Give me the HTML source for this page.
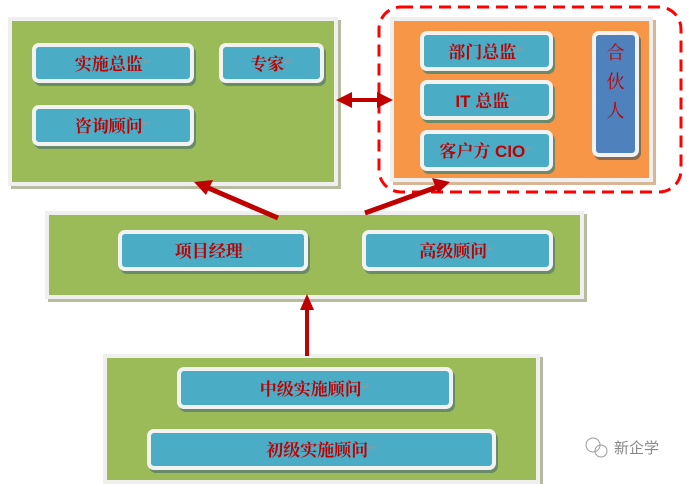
<!DOCTYPE html>
<html><head><meta charset="utf-8"><style>
body{margin:0;width:687px;height:477px;background:#fff;position:relative;overflow:hidden;font-family:"Liberation Sans","Noto Serif CJK SC",serif}
.p{position:absolute;box-sizing:border-box;border:4px solid #efefef;box-shadow:3px 3px 0 #b7bba0}
.g{background:#9bbb59}
.o{background:#f79646;box-shadow:3px 3px 0 #d8b595}
.b{position:absolute;box-sizing:border-box;background:#4bacc6;border:4px solid #f2f2f2;border-radius:7px;box-shadow:2px 3px 0 #6a8a6a;color:#c00000;font-weight:bold;font-size:17px;display:flex;align-items:center;justify-content:center;padding-bottom:2px}
.r{font-weight:normal;color:#999;font-size:10px}
</style></head><body>
<div class="p g" style="left:8px;top:17px;width:330px;height:169px"></div>
<div class="b" style="left:32px;top:43px;width:162px;height:40px">实施总监<span class="r">↵</span></div>
<div class="b" style="left:219px;top:43px;width:105px;height:40px">专家<span class="r">↵</span></div>
<div class="b" style="left:32px;top:105px;width:162px;height:41px">咨询顾问<span class="r">↵</span></div>

<div class="p o" style="left:390px;top:17px;width:263px;height:165px"></div>
<div class="b" style="left:420px;top:31px;width:133px;height:40px">部门总监<span class="r">↵</span></div>
<div class="b" style="left:420px;top:80px;width:133px;height:40px">IT 总监<span class="r">↵</span></div>
<div class="b" style="left:420px;top:130px;width:133px;height:41px">客户方 CIO<span class="r">↵</span></div>
<div class="b" style="left:592px;top:31px;width:47px;height:126px;background:#4f81bd;flex-direction:column;justify-content:flex-start;padding-top:4px;font-weight:normal;font-size:18px;line-height:29px;box-shadow:2px 3px 0 #8a6a50">合<br>伙<br>人</div>

<div class="p g" style="left:45px;top:211px;width:539px;height:88px"></div>
<div class="b" style="left:118px;top:230px;width:190px;height:41px">项目经理<span class="r">↵</span></div>
<div class="b" style="left:362px;top:230px;width:191px;height:41px">高级顾问<span class="r">↵</span></div>

<div class="p g" style="left:103px;top:354px;width:437px;height:130px"></div>
<div class="b" style="left:177px;top:367px;width:276px;height:42px">中级实施顾问<span class="r">↵</span></div>
<div class="b" style="left:147px;top:429px;width:349px;height:41px">初级实施顾问<span class="r">↵</span></div>

<svg width="687" height="477" style="position:absolute;left:0;top:0">
<rect x="379" y="7" width="302" height="185" rx="22" fill="none" stroke="#ff0000" stroke-width="3" stroke-dasharray="12,7"/>
<g fill="#c00000" stroke="#c00000">
<line x1="350" y1="100" x2="380" y2="100" stroke-width="4"/>
<polygon points="336,100 352,92 352,108" stroke="none"/>
<polygon points="393,100 377,92 377,108" stroke="none"/>
<line x1="278" y1="218" x2="206" y2="187" stroke-width="5"/>
<polygon points="194,182 213,180 206,195" stroke="none"/>
<line x1="365" y1="213" x2="437" y2="187" stroke-width="5"/>
<polygon points="450,182 432,178 438,193" stroke="none"/>
<line x1="307" y1="356" x2="307" y2="308" stroke-width="4"/>
<polygon points="307,294 300,310 314,310" stroke="none"/>
</g>
<g fill="none" stroke="#999" stroke-width="1">
<circle cx="593" cy="445" r="7"/><circle cx="601" cy="451" r="6"/>
</g>
<text x="614" y="453" font-size="15" fill="#888" font-family="Noto Sans CJK SC,sans-serif">新企学</text>
</svg>
</body></html>
